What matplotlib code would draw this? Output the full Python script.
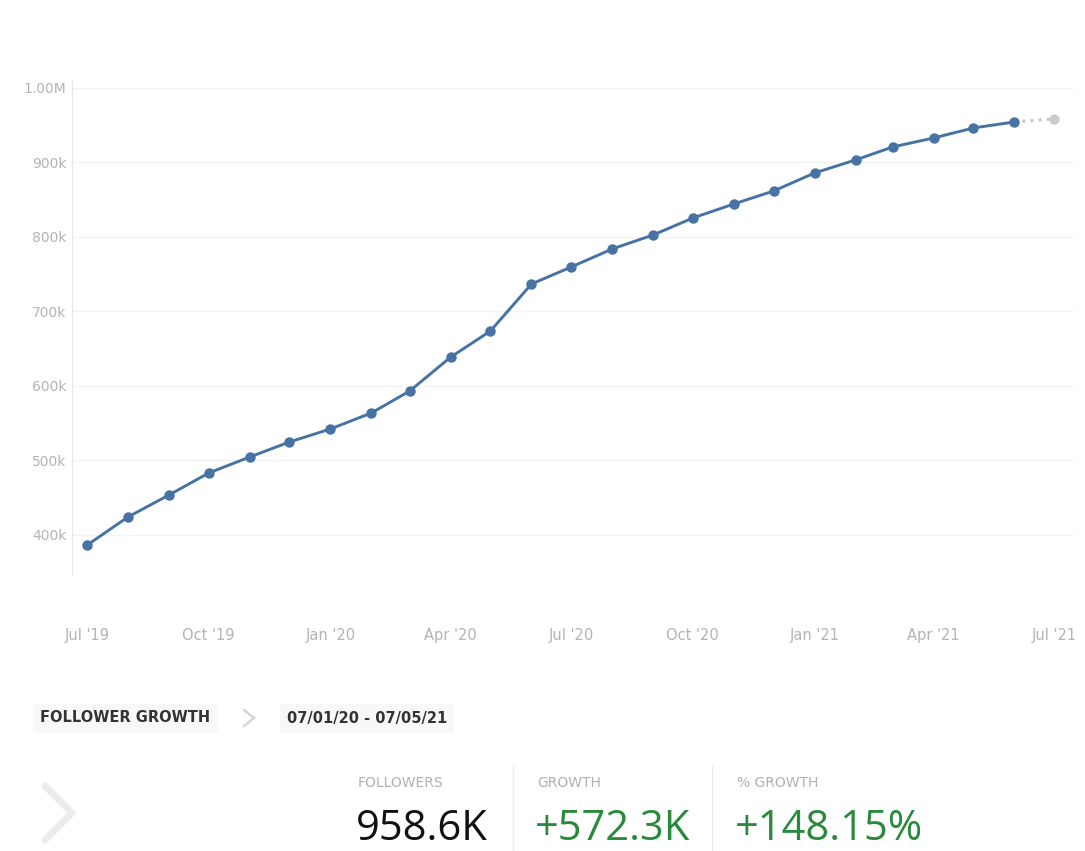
import numpy as np
import matplotlib
matplotlib.use("Agg")
import matplotlib.pyplot as plt
import matplotlib.dates as mdates
from matplotlib.lines import Line2D
from matplotlib.ticker import FuncFormatter

# monthly follower counts, Jul 2019 .. Jun 2021 (last one is the partial Jul 2021 point)
months = np.arange("2019-07", "2021-07", dtype="datetime64[M]").astype("datetime64[D]")
followers = [386300, 424200, 453700, 483200, 504700, 524800, 542300, 563800,
             593300, 638900, 673800, 736900, 759700, 783900, 802700, 825500,
             844300, 861700, 885900, 903400, 920800, 932900, 946300, 954400]
partial_month = np.datetime64("2021-07-01")
partial_value = 958600

yticks = [400000, 500000, 600000, 700000, 800000, 900000, 1000000]
xtick_dates = ["2019-07-01", "2019-10-01", "2020-01-01", "2020-04-01", "2020-07-01",
               "2020-10-01", "2021-01-01", "2021-04-01", "2021-07-01"]

stat_labels = ["FOLLOWERS", "GROWTH", "% GROWTH"]
stat_values = ["958.6K", "+572.3K", "+148.15%"]

W, H = 1085, 851
blue = "#4673a4"
tick_col = "#b4b4b4"
font = "DejaVu Sans"

fig = plt.figure(figsize=(W / 100, H / 100), dpi=100)
ax = fig.add_axes([72 / W, 1 - 575 / H, (1074 - 72) / W, (575 - 80) / H])

x = mdates.date2num(months)
ax.plot(x, followers, "-o", color=blue, lw=2.1, ms=6.5, zorder=3)
xp = mdates.date2num(np.array([months[-1], partial_month]))
ax.plot(xp, [followers[-1], partial_value], ":", color="#c8c8c8", lw=2.2, zorder=2)
ax.plot(xp[1:], [partial_value], "o", color="#cccccc", ms=6.5, zorder=2)

ax.set_ylim(346300, 1010700)
x0 = mdates.date2num(np.datetime64("2019-07-01"))
day_px = (1054 - 87) / (mdates.date2num(partial_month) - x0)
ax.set_xlim(x0 - 15 / day_px, x0 + (1074 - 87) / day_px)

ax.set_yticks(yticks)
ax.yaxis.set_major_formatter(FuncFormatter(
    lambda v, p: "1.00M" if v >= 1000000 else f"{v / 1000:.0f}k"))
ax.set_xticks(mdates.date2num(np.array(xtick_dates, dtype="datetime64[D]")))
ax.xaxis.set_major_formatter(mdates.DateFormatter("%b '%y"))

ax.tick_params(axis="y", length=0, pad=4, labelcolor=tick_col, labelsize=10)
ax.tick_params(axis="x", length=0, pad=38, labelcolor=tick_col, labelsize=10.5)

ax.grid(axis="y", color="#f3f3f3", lw=1)
ax.set_axisbelow(True)
for s in ["top", "right", "bottom"]:
    ax.spines[s].set_visible(False)
ax.spines["left"].set_color("#e6e6e6")


def ftext(px, py, s, **kw):
    return fig.text(px / W, 1 - py / H, s, **kw)


# breadcrumb row
ftext(40, 718, "FOLLOWER GROWTH", fontsize=10.5, color="#333333", va="center",
      family=font, fontweight="semibold",
      bbox=dict(facecolor="#f8f8f8", edgecolor="none", pad=5))
ftext(287, 718, "07/01/20 - 07/05/21", fontsize=10.5, color="#333333", va="center",
      family=font, fontweight="semibold",
      bbox=dict(facecolor="#f8f8f8", edgecolor="none", pad=5))
fig.add_artist(Line2D([244 / W, 254 / W], [1 - 710 / H, 1 - 718 / H],
                      transform=fig.transFigure, color="#d8d8d8", lw=1.8))
fig.add_artist(Line2D([254 / W, 244 / W], [1 - 718 / H, 1 - 726 / H],
                      transform=fig.transFigure, color="#d8d8d8", lw=1.8))

# big chevron
fig.add_artist(Line2D([45 / W, 72 / W, 45 / W], [1 - 786 / H, 1 - 813 / H, 1 - 840 / H],
                      transform=fig.transFigure, color="#ececec", lw=5,
                      solid_capstyle="round", solid_joinstyle="miter"))

# stat blocks
stat_x = [358, 537, 737]
value_cols = ["#111111", "#2a8a3c", "#2a8a3c"]
for sx, lab, val, col in zip(stat_x, stat_labels, stat_values, value_cols):
    ftext(sx, 783, lab, fontsize=10, color="#b0b0b0", va="center", family=font)
    ftext(sx - 2, 850, val, fontsize=30, color=col, va="bottom", family="Open Sans")
for sep in [513, 712]:
    fig.add_artist(Line2D([sep / W, sep / W], [1 - 765 / H, 0],
                          transform=fig.transFigure, color="#ececec", lw=1))

fig.savefig("out.png", dpi=100)
